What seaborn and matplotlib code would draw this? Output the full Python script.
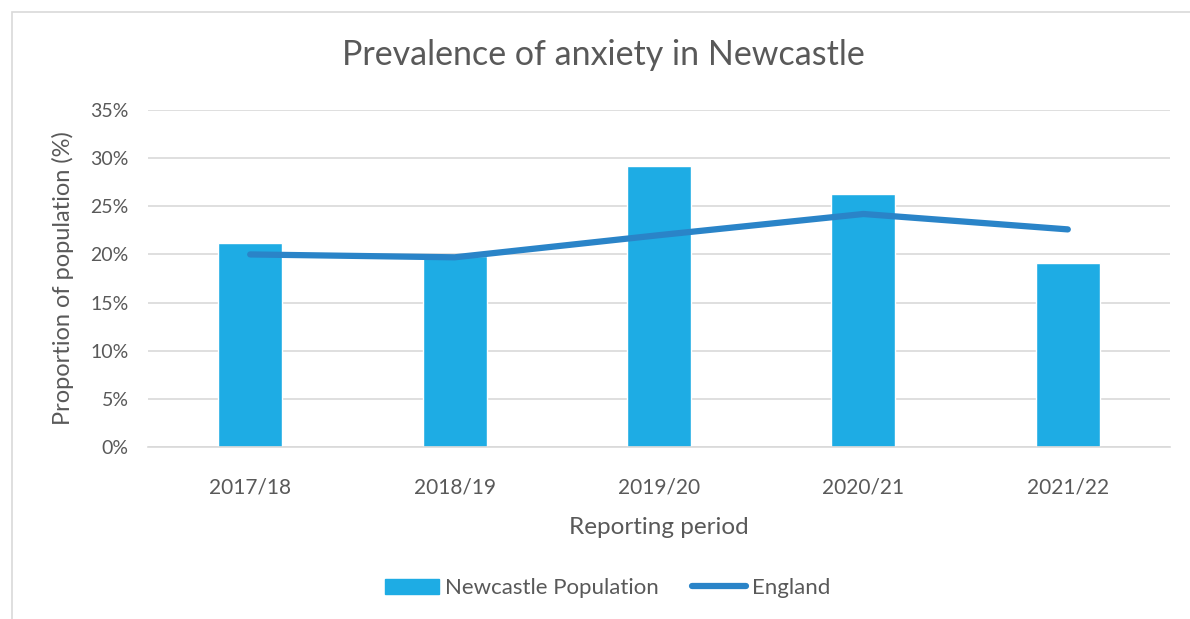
import matplotlib
matplotlib.use("Agg")
import matplotlib.pyplot as plt
import seaborn as sns
import pandas as pd
from matplotlib.patches import Rectangle
from matplotlib.lines import Line2D
from matplotlib.ticker import FuncFormatter

periods = ["2017/18", "2018/19", "2019/20", "2020/21", "2021/22"]
newcastle = [21.2, 19.8, 29.2, 26.3, 19.1]
england = [20.0, 19.7, 22.0, 24.2, 22.6]

bar_color = "#1EACE4"
line_color = "#2A84C8"
text_color = "#595959"
grid_color = "#D9D9D9"

sns.set_theme(style="white")
plt.rcParams["font.family"] = ["Lato", "DejaVu Sans"]

df = pd.DataFrame({"period": periods, "newcastle": newcastle, "england": england})

fig = plt.figure(figsize=(11.9, 6.19), dpi=100)
ax = fig.add_axes([148 / 1190, 1 - 447 / 619, (1170 - 148) / 1190, (447 - 110) / 619])

sns.barplot(data=df, x="period", y="newcastle", color=bar_color, width=0.313,
            saturation=1, ax=ax, zorder=2)
ax.plot(range(len(periods)), df["england"], color=line_color, lw=4.5,
        solid_capstyle="round", solid_joinstyle="round", zorder=3)

ax.set_ylim(0, 35)
ax.set_xlim(-0.5, len(periods) - 0.5)
ax.set_yticks(range(0, 36, 5))
ax.yaxis.set_major_formatter(FuncFormatter(lambda v, _: f"{v:.0f}%"))
ax.grid(axis="y", color=grid_color, lw=1.2, zorder=0)
ax.set_axisbelow(True)
for side in ["top", "right", "left"]:
    ax.spines[side].set_visible(False)
ax.spines["bottom"].set_color(grid_color)
ax.spines["bottom"].set_linewidth(1.2)
ax.tick_params(axis="y", length=0, labelsize=14, colors=text_color, pad=14)
ax.tick_params(axis="x", length=0, labelsize=15, colors=text_color, pad=22)

ax.set_xlabel("Reporting period", fontsize=17.5, color=text_color, labelpad=14)
ax.set_ylabel("Proportion of population (%)", fontsize=17, color=text_color, labelpad=12)
fig.text(603 / 1190, 1 - 55 / 619, "Prevalence of anxiety in Newcastle",
         ha="center", va="center", fontsize=24.5, color=text_color)

handles = [Rectangle((0, 0), 1, 1, color=bar_color),
           Line2D([0], [0], color=line_color, lw=4.5, solid_capstyle="round")]
fig.legend(handles, ["Newcastle Population", "England"], loc="center",
           bbox_to_anchor=(608 / 1190, 1 - 588 / 619), ncol=2, frameon=False,
           fontsize=16, labelcolor=text_color, handlelength=2.4, handleheight=0.65,
           columnspacing=1.5, handletextpad=0.3)

# light chart-area border
fig.add_artist(Rectangle((12 / 1190, -0.05), 1.1, 1 - 12 / 619 + 0.05,
                         transform=fig.transFigure, fill=False,
                         edgecolor="#D9D9D9", lw=1.2))

fig.savefig("out.png", dpi=100, facecolor="white")
